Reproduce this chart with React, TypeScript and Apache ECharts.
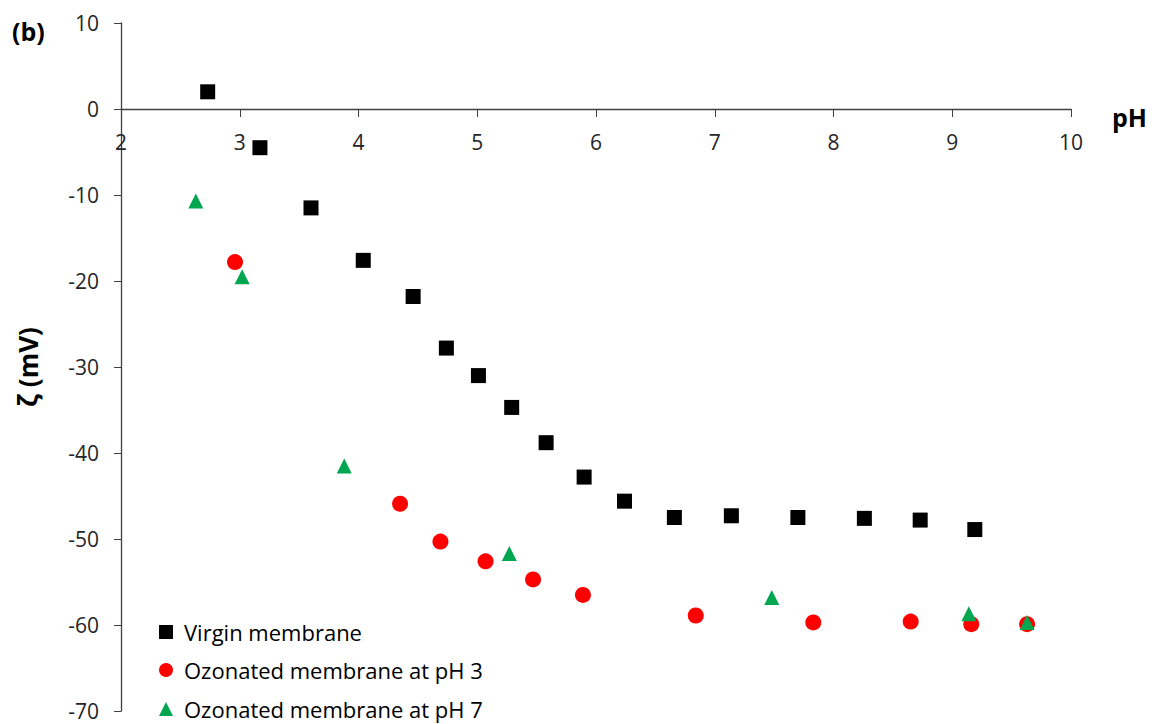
import React, { useEffect, useRef } from "react";
import * as echarts from "echarts";

const virginX = [2.73, 3.17, 3.6, 4.04, 4.46, 4.74, 5.01, 5.29, 5.58, 5.9, 6.24, 6.66, 7.14, 7.7, 8.26, 8.73, 9.19];
const virginY = [2, -4.5, -11.5, -17.6, -21.8, -27.8, -31, -34.7, -38.8, -42.8, -45.6, -47.5, -47.3, -47.5, -47.6, -47.8, -48.9];

const ph3X = [2.96, 4.35, 4.69, 5.07, 5.47, 5.89, 6.84, 7.83, 8.65, 9.16, 9.63];
const ph3Y = [-17.8, -45.9, -50.3, -52.6, -54.7, -56.5, -58.9, -59.7, -59.6, -59.9, -59.9];

const ph7X = [2.63, 3.02, 3.88, 5.27, 7.48, 9.14, 9.63];
const ph7Y = [-10.7, -19.5, -41.5, -51.7, -56.8, -58.7, -59.7];

const seriesNames = ["Virgin membrane", "Ozonated membrane at pH 3", "Ozonated membrane at pH 7"];
const legendIcons = ["rect", "circle", "triangle"];

const zip = (xs: number[], ys: number[]) => xs.map((x, i) => [x, ys[i]]);

const FONT = "Open Sans";

const GRID_TOP = 23;
const GRID_BOTTOM = 13;
const CHART_H = 724;
const Y_MIN = -70;
const Y_MAX = 10;

export default function App() {
  const ref = useRef<HTMLDivElement>(null);
  useEffect(() => {
    if (!ref.current) return;
    const chart = echarts.init(ref.current, null, { renderer: "svg" });
    const gridH = CHART_H - GRID_TOP - GRID_BOTTOM;
    const zeroOffset = (gridH * (0 - Y_MIN)) / (Y_MAX - Y_MIN);
    const legendTops = [621, 659, 698];
    chart.setOption({
      animation: false,
      backgroundColor: "#ffffff",
      textStyle: { fontFamily: FONT },
      grid: { left: 121, right: 81, top: GRID_TOP, bottom: GRID_BOTTOM, containLabel: false },
      legend: seriesNames.map((name, i) => ({
        orient: "vertical",
        left: 159,
        top: legendTops[i],
        padding: 0,
        itemGap: 0,
        itemWidth: 14,
        itemHeight: 14,
        textStyle: { fontFamily: FONT, fontSize: 22, color: "#000", padding: [0, 0, 0, 6] },
        data: [{ name, icon: legendIcons[i] }],
      })),
      graphic: [
        { type: "text", left: 12, top: 18, style: { text: "(b)", fontFamily: FONT, fontSize: 25, fontWeight: "bold", fill: "#000" } },
        { type: "text", left: 1112, top: 104, style: { text: "pH", fontFamily: FONT, fontSize: 25, fontWeight: "bold", fill: "#000" } },
      ],
      xAxis: {
        type: "value",
        min: 2,
        max: 10,
        interval: 1,
        position: "bottom",
        offset: -zeroOffset,
        axisLine: { onZero: false, lineStyle: { color: "#404040", width: 1.3 } },
        axisTick: { show: true, inside: false, length: 8, lineStyle: { color: "#404040" } },
        axisLabel: { margin: 22, fontSize: 21, color: "#262626", fontFamily: FONT },
        splitLine: { show: false },
      },
      yAxis: {
        type: "value",
        min: Y_MIN,
        max: Y_MAX,
        interval: 10,
        name: "ζ (mV)",
        nameLocation: "middle",
        nameGap: 80,
        nameRotate: 90,
        nameTextStyle: { fontFamily: FONT, fontSize: 26, fontWeight: "bold", color: "#000" },
        axisLine: { show: true, onZero: false, lineStyle: { color: "#404040", width: 1.3 } },
        axisTick: { show: true, length: 7, lineStyle: { color: "#404040" } },
        axisLabel: { margin: 22, fontSize: 21, color: "#262626", fontFamily: FONT },
        splitLine: { show: false },
      },
      series: [
        {
          name: seriesNames[0],
          type: "scatter",
          symbol: "rect",
          symbolSize: 15,
          itemStyle: { color: "#000000", opacity: 1 },
          data: zip(virginX, virginY),
        },
        {
          name: seriesNames[1],
          type: "scatter",
          symbol: "circle",
          symbolSize: 16,
          itemStyle: { color: "#ff0000", opacity: 1 },
          data: zip(ph3X, ph3Y),
        },
        {
          name: seriesNames[2],
          type: "scatter",
          symbol: "triangle",
          symbolSize: 15,
          itemStyle: { color: "#00a650", opacity: 1 },
          data: zip(ph7X, ph7Y),
        },
      ],
    });
    return () => chart.dispose();
  }, []);
  return <div ref={ref} style={{ position: "fixed", left: 0, top: 0, width: 1152, height: 724 }} />;
}
